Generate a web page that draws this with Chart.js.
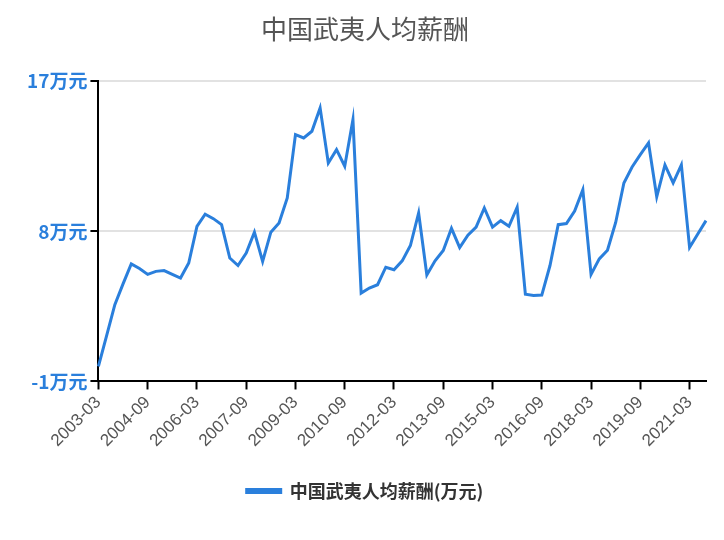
<!DOCTYPE html>
<html>
<head>
<meta charset="utf-8">
<script src="https://cdn.jsdelivr.net/npm/chart.js@4"></script>
<style>
    body { margin: 0; background: #fff; }
    #wrap { width: 724px; height: 540px; }
</style>
</head>
<body>
<div id="wrap"><canvas id="chart"></canvas></div>
<script>
const startYear = 2003;
const quarterMonths = ['03', '06', '09', '12'];

const salaryValues = [
    -0.1, 1.75, 3.6, 4.85, 6.05, 5.77, 5.42, 5.6, 5.65, 5.42,
    5.2, 6.1, 8.3, 9.03, 8.76, 8.4, 6.4, 5.95, 6.7, 7.95,
    6.2, 7.95, 8.5, 10.0, 13.8, 13.6, 14.0, 15.4, 12.1, 12.9,
    11.9, 14.7, 4.3, 4.6, 4.8, 5.85, 5.7, 6.23, 7.15, 9.1,
    5.38, 6.23, 6.85, 8.18, 7.03, 7.77, 8.25, 9.4, 8.25, 8.64,
    8.3, 9.45, 4.23, 4.16, 4.18, 5.95, 8.4, 8.47, 9.22, 10.5,
    5.42, 6.35, 6.87, 8.53, 10.9, 11.86, 12.6, 13.3, 10.07, 11.98,
    10.9, 11.98, 7.03, 7.84, 8.64,
];

const quarterLabels = salaryValues.map((_, i) =>
    (startYear + Math.floor(i / 4)) + '-' + quarterMonths[i % 4]);

const yTickValues = [-1, 8, 17];
const seriesName = '中国武夷人均薪酬(万元)';
const blue = '#2a7fdc';

new Chart(document.getElementById('chart'), {
    type: 'line',
    data: {
        labels: quarterLabels,
        datasets: [{
            label: seriesName,
            data: salaryValues,
            borderColor: blue,
            backgroundColor: blue,
            borderWidth: 3,
            pointRadius: 0,
            tension: 0,
        }],
    },
    options: {
        responsive: true,
        maintainAspectRatio: false,
        animation: false,
        layout: { padding: { left: 24, right: 18, top: 0, bottom: 30 } },
        plugins: {
            title: {
                display: true,
                text: '中国武夷人均薪酬',
                color: '#555',
                font: { size: 26, weight: 'normal', family: "'Noto Sans CJK SC', sans-serif" },
                padding: { top: 14, bottom: 36 },
            },
            legend: {
                position: 'bottom',
                labels: {
                    color: '#333',
                    boxWidth: 34,
                    boxHeight: 3,
                    padding: 28,
                    font: { size: 18, weight: 'bold', family: "'Noto Sans CJK SC', sans-serif" },
                },
            },
            tooltip: { enabled: false },
        },
        scales: {
            x: {
                border: { color: '#000', width: 2 },
                grid: {
                    drawOnChartArea: false,
                    tickLength: 8,
                    tickWidth: 2,
                    tickColor: (ctx) => (ctx.index % 6 === 0 ? '#000' : 'rgba(0,0,0,0)'),
                },
                ticks: {
                    autoSkip: false,
                    maxRotation: 45,
                    minRotation: 45,
                    color: '#555',
                    font: { size: 17, family: "'Liberation Sans', sans-serif" },
                    callback: (value, index) => (index % 6 === 0 ? quarterLabels[index] : ''),
                },
            },
            y: {
                min: -1,
                max: 17,
                afterBuildTicks: (axis) => {
                    axis.ticks = yTickValues.map((v) => ({ value: v }));
                },
                border: { color: '#000', width: 2 },
                grid: {
                    color: '#e2e2e2',
                    lineWidth: 2,
                    tickColor: '#000',
                    tickLength: 8,
                },
                ticks: {
                    color: blue,
                    font: { size: 19, weight: 'bold', family: "'Noto Sans CJK SC', sans-serif" },
                    callback: (value) => value + '万元',
                },
            },
        },
    },
});
</script>
</body>
</html>
